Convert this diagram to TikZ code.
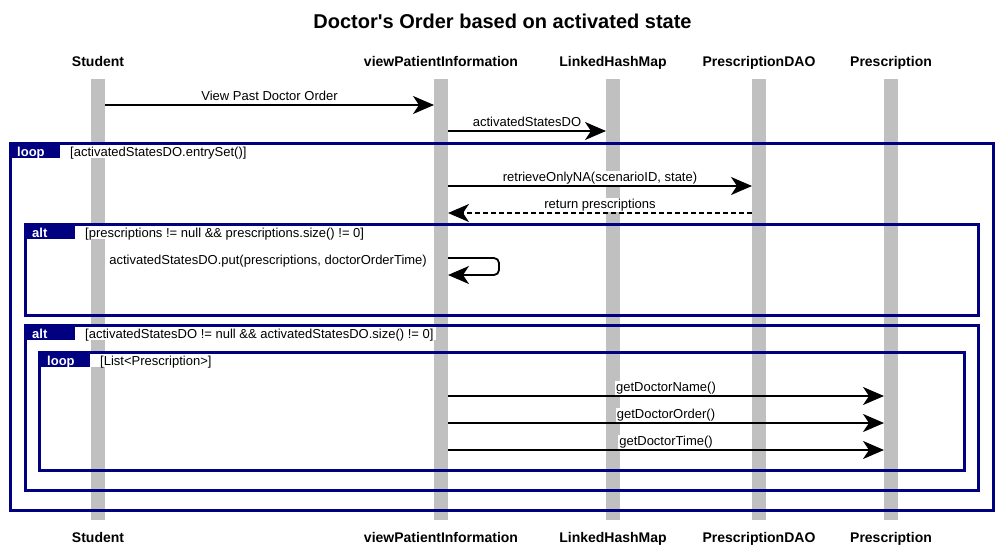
\documentclass[tikz,border=0pt]{standalone}
\usepackage{fontspec}
\setmainfont{Liberation Sans}
\newfontfamily\plainfont{Liberation Sans}
\usetikzlibrary{arrows.meta}
\definecolor{frameblue}{HTML}{000080}
\definecolor{lifegray}{HTML}{C0C0C0}
\pgfdeclarelayer{lifelines}
\pgfdeclarelayer{masks}
\pgfsetlayers{lifelines,masks,main}
\begin{document}
\begin{tikzpicture}[x=1pt,y=-1pt,
  part/.style={font=\bfseries\fontsize{14}{16}\selectfont, inner sep=0pt, anchor=base},
  titlestyle/.style={font=\plainfont\bfseries\fontsize{20}{24}\selectfont, inner sep=0pt},
  framebox/.style={draw=frameblue, line width=3pt},
  tabbox/.style={fill=frameblue, draw=none},
  tabtext/.style={font=\bfseries\fontsize{13}{15}\selectfont, text=white, anchor=base west, inner sep=0pt},
  condtext/.style={font=\fontsize{13}{15}\selectfont, anchor=base west, inner sep=0pt},
  msg/.style={draw=black, line width=1.8pt, -{Stealth[length=21pt,width=18pt,inset=6pt]}},
  retmsg/.style={msg, dash pattern=on 5pt off 3pt},
  lbl/.style={midway, above=0.5pt, fill=white, inner sep=1pt, text height=9.5pt, text depth=2.5pt, font=\fontsize{13}{15}\selectfont},
]
\path[use as bounding box] (0,0) rectangle (1003,554);

% title
\node[titlestyle] (title) at (502.5,21) {Doctor's Order based on activated state};

% participants
\foreach \x/\n/\t in {98/S/Student,441/V/viewPatientInformation,613/L/LinkedHashMap,759/D/PrescriptionDAO,891/P/Prescription}{
  \node[part] (\n top) at (\x,66) {\t};
  \node[part] (\n bot) at (\x,542) {\t};
  \begin{pgfonlayer}{lifelines}
    \fill[lifegray] (\x-7,79) rectangle (\x+7,520);
  \end{pgfonlayer}
}

% frames: outer loop
\draw[framebox] (10,143) rectangle (993,510);
\fill[tabbox] (10,143) rectangle (60,158);
\node[tabtext] (t1) at (17,156) {loop};
\node[condtext] (c1) at (70,156) {[activatedStatesDO.entrySet()]};
\begin{pgfonlayer}{masks}\fill[white] (60,144.5) rectangle ([xshift=2pt]c1.east |- 0,158);\end{pgfonlayer}

% alt 1
\draw[framebox] (25,224) rectangle (978,315);
\fill[tabbox] (25,224) rectangle (75,239);
\node[tabtext] (t2) at (32,237) {alt};
\node[condtext] (c2) at (85,237) {[prescriptions != null \&\& prescriptions.size() != 0]};
\begin{pgfonlayer}{masks}\fill[white] (75,225.5) rectangle ([xshift=2pt]c2.east |- 0,239);\end{pgfonlayer}

% alt 2
\draw[framebox] (25,325) rectangle (978,490);
\fill[tabbox] (25,325) rectangle (75,340);
\node[tabtext] (t3) at (32,338) {alt};
\node[condtext] (c3) at (85,338) {[activatedStatesDO != null \&\& activatedStatesDO.size() != 0]};
\begin{pgfonlayer}{masks}\fill[white] (75,326.5) rectangle ([xshift=2pt]c3.east |- 0,340);\end{pgfonlayer}

% inner loop
\draw[framebox] (39,352) rectangle (964,470);
\fill[tabbox] (39,352) rectangle (90,367);
\node[tabtext] (t4) at (47,365) {loop};
\node[condtext] (c4) at (100,365) {[List<Prescription>]};
\begin{pgfonlayer}{masks}\fill[white] (90,353.5) rectangle ([xshift=2pt]c4.east |- 0,367);\end{pgfonlayer}

% message endpoints
\coordinate (m1a) at (105,105); \coordinate (m1b) at (434,105);
\coordinate (m2a) at (448,131); \coordinate (m2b) at (606,131);
\coordinate (m3a) at (448,186); \coordinate (m3b) at (752,186);
\coordinate (m4a) at (752,213); \coordinate (m4b) at (448,213);
\coordinate (m5a) at (448,258); \coordinate (m5b) at (448,275);
\coordinate (m6a) at (448,396); \coordinate (m6b) at (884,396);
\coordinate (m7a) at (448,423); \coordinate (m7b) at (884,423);
\coordinate (m8a) at (448,450); \coordinate (m8b) at (884,450);

\draw[msg] (m1a) -- node[lbl] {View Past Doctor Order} (m1b);
\draw[msg] (m2a) -- node[lbl] {activatedStatesDO} (m2b);
\draw[msg] (m3a) -- node[lbl] {retrieveOnlyNA(scenarioID, state)} (m3b);
\draw[retmsg] (m4a) -- node[lbl] {return prescriptions} (m4b);
\draw[msg, rounded corners=5pt] (m5a) -- (499,258) -- (499,275) -- (m5b);
\node[condtext, anchor=base east] (l5) at (427,264) {activatedStatesDO.put(prescriptions, doctorOrderTime)};
\draw[msg] (m6a) -- node[lbl] {getDoctorName()} (m6b);
\draw[msg] (m7a) -- node[lbl] {getDoctorOrder()} (m7b);
\draw[msg] (m8a) -- node[lbl] {getDoctorTime()} (m8b);
\end{tikzpicture}
\end{document}
